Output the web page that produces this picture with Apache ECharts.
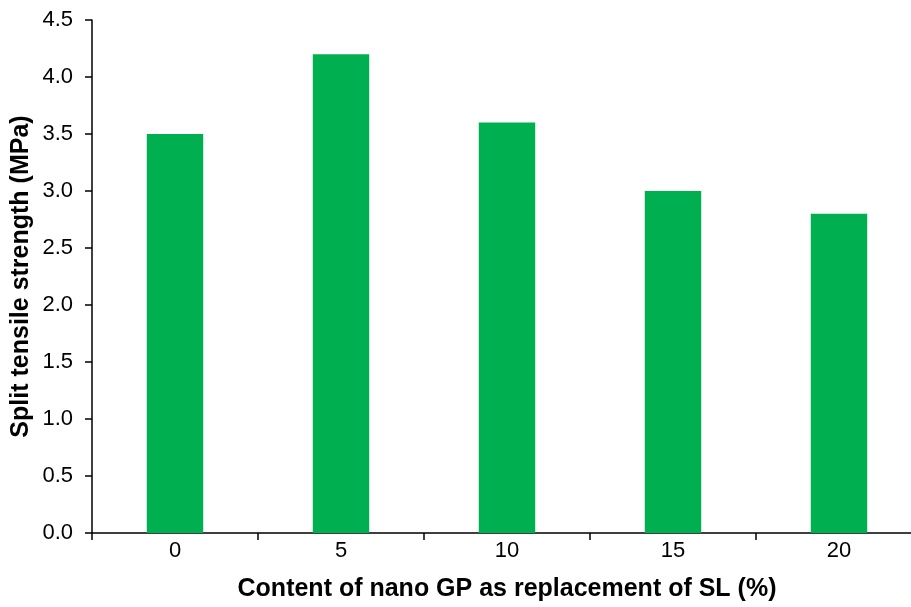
<!DOCTYPE html>
<html>
<head>
<meta charset="utf-8">
<script src="https://cdn.jsdelivr.net/npm/echarts@6/dist/echarts.min.js"></script>
<style>html,body{margin:0;padding:0;background:#fff}#chart{width:911px;height:607px}</style>
</head>
<body>
<div id="chart"></div>
<script>
// split tensile strength vs nano GP content
var categories = ['0', '5', '10', '15', '20'];
var strength = [3.5, 4.2, 3.6, 3.0, 2.8];

var chart = echarts.init(document.getElementById('chart'));
var option = {
    animation: false,
    grid: { left: 92, right: -11, top: 20, bottom: 74, outerBoundsMode: 'none', containLabel: false },
    xAxis: {
        type: 'category',
        data: categories,
        name: 'Content of nano GP as replacement of SL (%)',
        nameLocation: 'middle',
        nameGap: 44,
        nameMoveOverlap: false,
        nameTextStyle: { color: '#000', fontSize: 25, fontWeight: 'bold', fontFamily: 'Liberation Sans' },
        axisLine: { lineStyle: { color: '#000', width: 1.5 } },
        axisTick: { show: true, length: 7, lineStyle: { color: '#000', width: 1.5 } },
        axisLabel: { color: '#000', fontSize: 22, fontFamily: 'Liberation Sans', margin: 7 }
    },
    yAxis: {
        type: 'value',
        min: 0,
        max: 4.5,
        interval: 0.5,
        name: 'Split tensile strength (MPa)',
        nameLocation: 'middle',
        nameGap: 58,
        nameMoveOverlap: false,
        nameTextStyle: { color: '#000', fontSize: 25, fontWeight: 'bold', fontFamily: 'Liberation Sans' },
        axisLine: { show: true, lineStyle: { color: '#000', width: 1.5 } },
        axisTick: { show: true, length: 7, lineStyle: { color: '#000', width: 1.5 } },
        splitLine: { show: false },
        axisLabel: {
            color: '#000', fontSize: 22, fontFamily: 'Liberation Sans', margin: 19,
            formatter: function (v) { return v.toFixed(1); }
        }
    },
    series: [{
        type: 'bar',
        data: strength,
        barWidth: '34%',
        itemStyle: { color: '#00B050' }
    }]
};
chart.setOption(option);
</script>
</body>
</html>
